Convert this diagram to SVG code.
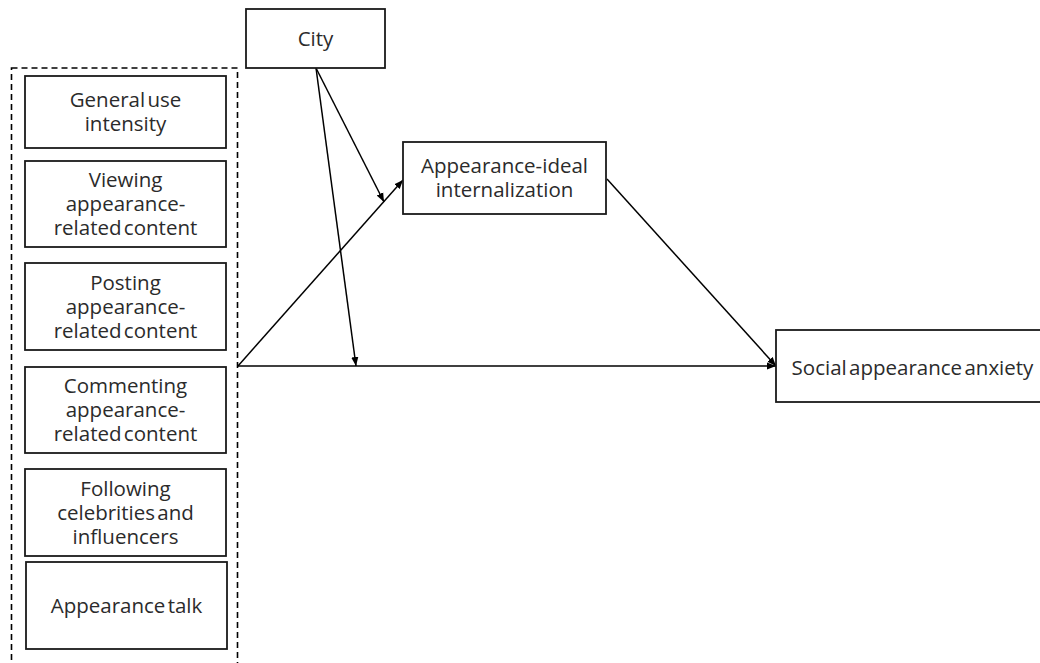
<svg xmlns="http://www.w3.org/2000/svg" width="1040" height="663" viewBox="0 0 1040 663">
<style>
.box{fill:#fff;stroke:#1a1a1a;stroke-width:1.8}
.t{font-family:"Open Sans","Noto Sans",sans-serif;font-size:20.5px;fill:#2b2b2b;text-anchor:middle;word-spacing:-3px}
.c{fill:none;stroke:#000;stroke-width:1.5}
</style>
<defs>
<marker id="ah" viewBox="0 0 10 10" refX="10" refY="5" markerWidth="9" markerHeight="9" markerUnits="userSpaceOnUse" orient="auto">
<path d="M0,1 L10,5 L0,9 Z" fill="#000"/>
</marker>
</defs>
<rect width="1040" height="663" fill="#fff"/>
<g id="group-box">
<rect x="11.5" y="68" width="226" height="610" fill="none" stroke="#000" stroke-width="1.6" stroke-dasharray="6,4"/>
</g>
<g id="connectors">
<line class="c" x1="238" y1="366" x2="776" y2="366" marker-end="url(#ah)"/>
<line class="c" x1="238" y1="366" x2="403" y2="180" marker-end="url(#ah)"/>
<line class="c" x1="316" y1="68" x2="384" y2="202" marker-end="url(#ah)"/>
<line class="c" x1="316" y1="68" x2="356" y2="366" marker-end="url(#ah)"/>
<line class="c" x1="607" y1="179" x2="776" y2="366" marker-end="url(#ah)"/>
</g>
<g id="city">
<rect class="box" x="246" y="9" width="139" height="59"/>
<text class="t" x="315.5" y="46">City</text>
</g>
<g id="general-use">
<rect class="box" x="25" y="76" width="201" height="72"/>
<text class="t" x="125.5" y="107">General use</text>
<text class="t" x="125.5" y="131">intensity</text>
</g>
<g id="viewing">
<rect class="box" x="25" y="161" width="201" height="86"/>
<text class="t" x="125.5" y="187">Viewing</text>
<text class="t" x="125.5" y="211">appearance-</text>
<text class="t" x="125.5" y="235">related content</text>
</g>
<g id="posting">
<rect class="box" x="25" y="263" width="201" height="87"/>
<text class="t" x="125.5" y="290">Posting</text>
<text class="t" x="125.5" y="314">appearance-</text>
<text class="t" x="125.5" y="338">related content</text>
</g>
<g id="commenting">
<rect class="box" x="25" y="367" width="201" height="86"/>
<text class="t" x="125.5" y="393">Commenting</text>
<text class="t" x="125.5" y="417">appearance-</text>
<text class="t" x="125.5" y="441">related content</text>
</g>
<g id="following">
<rect class="box" x="25" y="469" width="201" height="87"/>
<text class="t" x="125.5" y="496">Following</text>
<text class="t" x="125.5" y="520">celebrities and</text>
<text class="t" x="125.5" y="544">influencers</text>
</g>
<g id="appearance-talk">
<rect class="box" x="26" y="562" width="201" height="87"/>
<text class="t" x="126.5" y="613">Appearance talk</text>
</g>
<g id="internalization">
<rect class="box" x="403" y="142" width="203" height="72"/>
<text class="t" x="504.5" y="173">Appearance-ideal</text>
<text class="t" x="504.5" y="197">internalization</text>
</g>
<g id="anxiety">
<rect class="box" x="776" y="330" width="270" height="72"/>
<text class="t" x="912.5" y="375">Social appearance anxiety</text>
</g>
</svg>
